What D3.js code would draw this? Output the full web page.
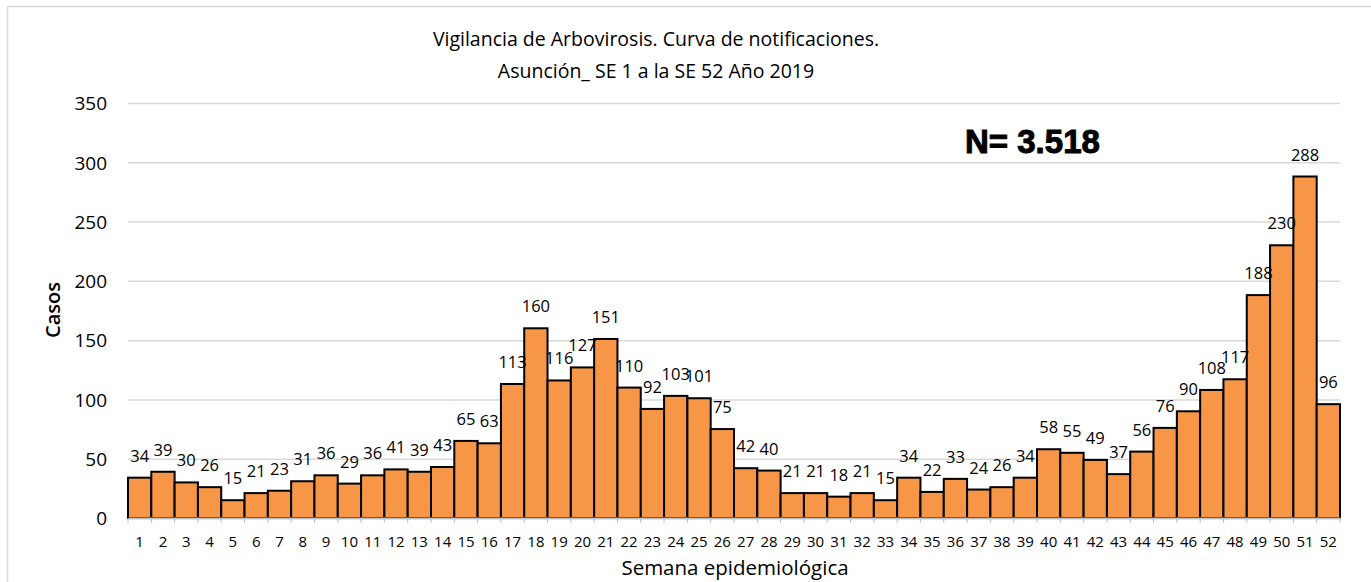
<!DOCTYPE html>
<html>
<head>
<meta charset="utf-8">
<script src="https://cdn.jsdelivr.net/npm/d3@7"></script>
<style>
  body { margin: 0; background: #fff; }
  svg text { font-family: "Open Sans", "Noto Sans", sans-serif; fill: #000; }
</style>
</head>
<body>
<div class="chart"></div>
<script>
// semanas epidemiologicas 1..52
const semanas = d3.range(1, 53).map(String);
const casos = [34, 39, 30, 26, 15, 21, 23, 31, 36, 29, 36, 41, 39, 43, 65, 63,
    113, 160, 116, 127, 151, 110, 92, 103, 101, 75, 42, 40, 21, 21, 18, 21, 15,
    34, 22, 33, 24, 26, 34, 58, 55, 49, 37, 56, 76, 90, 108, 117, 188, 230, 288, 96];
const yTicks = [0, 50, 100, 150, 200, 250, 300, 350];
const titulo = ["Vigilancia de Arbovirosis. Curva de notificaciones.",
    "Asunción_ SE 1 a la SE 52 Año 2019"];
const total = "N= 3.518";

function drawChart() {
    const w = 1371;
    const h = 582;
    const margin = { top: 103, right: 31, bottom: 64, left: 128 };
    const chartWidth = w - margin.left - margin.right;
    const chartHeight = h - margin.top - margin.bottom;

    const svg = d3.select('.chart')
        .append('svg')
        .attr('width', w)
        .attr('height', h);

    // marco
    svg.append('rect')
        .attr('x', 7.5).attr('y', 6.5)
        .attr('width', 1400).attr('height', 600)
        .attr('fill', 'none')
        .attr('stroke', '#d9d9d9')
        .attr('stroke-width', 1.5);

    const g = svg.append('g')
        .attr('transform', `translate(${margin.left}, ${margin.top})`);

    const xScale = d3.scaleBand()
        .domain(semanas)
        .range([0, chartWidth])
        .padding(0);

    const yScale = d3.scaleLinear()
        .domain([0, 350])
        .range([chartHeight, 0]);

    // grid
    g.append('g')
        .selectAll('line')
        .data(yTicks.slice(1))
        .enter().append('line')
        .attr('x1', 0).attr('x2', chartWidth)
        .attr('y1', d => yScale(d) + 0.5).attr('y2', d => yScale(d) + 0.5)
        .attr('stroke', '#d9d9d9')
        .attr('stroke-width', 1.5);

    // yAxis
    const y = d3.axisLeft(yScale)
        .tickValues(yTicks)
        .tickSize(0)
        .tickPadding(21);
    const yAxis = g.append('g').call(y);
    yAxis.select('.domain').remove();
    yAxis.selectAll('text')
        .style('font-size', '19px')
        .attr('dy', '0.36em');

    // bars
    g.selectAll('.bar')
        .data(casos)
        .enter().append('rect')
        .attr('class', 'bar')
        .attr('x', (d, i) => xScale(semanas[i]))
        .attr('y', d => yScale(d))
        .attr('width', xScale.bandwidth())
        .attr('height', d => chartHeight - yScale(d))
        .attr('fill', '#f79646')
        .attr('stroke', '#000')
        .attr('stroke-width', 2);

    // xAxis
    const x = d3.axisBottom(xScale).tickSize(0).tickPadding(18);
    const xAxis = g.append('g')
        .attr('transform', `translate(0, ${chartHeight})`)
        .call(x);
    xAxis.select('.domain')
        .attr('stroke', '#bfbfbf')
        .attr('stroke-width', 2);
    xAxis.selectAll('text').style('font-size', '15px');

    // marcas entre barras
    g.append('g')
        .selectAll('line')
        .data(d3.range(semanas.length + 1))
        .enter().append('line')
        .attr('x1', i => i * xScale.step()).attr('x2', i => i * xScale.step())
        .attr('y1', chartHeight).attr('y2', chartHeight + 5)
        .attr('stroke', '#bfbfbf')
        .attr('stroke-width', 1);

    // etiquetas
    g.selectAll('.lbl')
        .data(casos)
        .enter().append('text')
        .attr('class', 'lbl')
        .attr('x', (d, i) => xScale(semanas[i]) + xScale.bandwidth() / 2)
        .attr('y', d => yScale(d) - 16)
        .attr('text-anchor', 'middle')
        .style('font-size', '16.5px')
        .text(d => d);

    // titulo
    svg.append('g').selectAll('text')
        .data(titulo)
        .enter().append('text')
        .attr('x', 656)
        .attr('y', (d, i) => 46 + i * 32)
        .attr('text-anchor', 'middle')
        .style('font-size', '19.5px')
        .text(d => d);

    svg.append('text')
        .attr('x', 965)
        .attr('y', 153)
        .style('font-family', '"Liberation Sans", Arial, sans-serif')
        .style('font-weight', 'bold')
        .style('font-size', '33px')
        .attr('stroke', '#000')
        .attr('stroke-width', 1)
        .text(total);

    svg.append('text')
        .attr('transform', 'rotate(-90)')
        .attr('x', -310)
        .attr('y', 60)
        .attr('text-anchor', 'middle')
        .style('font-size', '20px')
        .style('font-weight', 600)
        .text('Casos');

    svg.append('text')
        .attr('x', 735)
        .attr('y', 575)
        .attr('text-anchor', 'middle')
        .style('font-size', '20.5px')
        .text('Semana epidemiológica');
}

drawChart();
</script>
</body>
</html>
